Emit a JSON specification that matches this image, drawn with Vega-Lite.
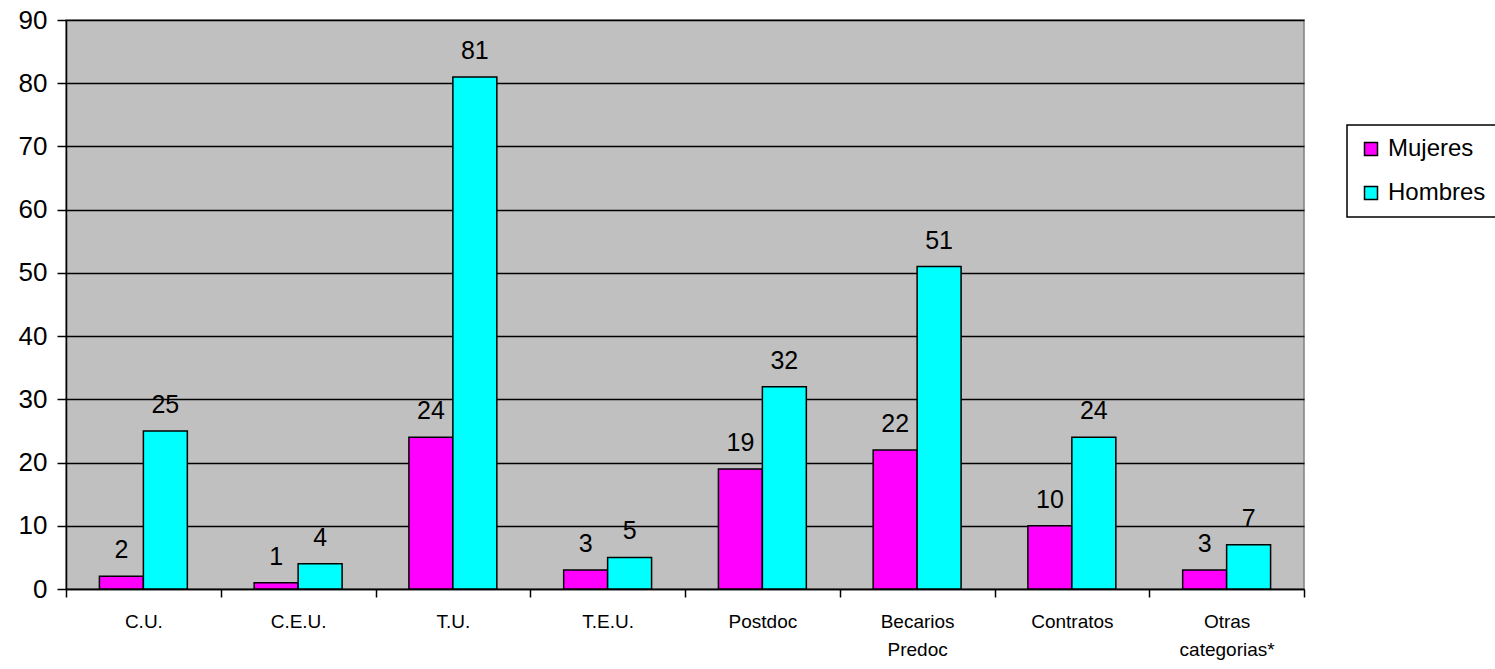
{
  "$schema": "https://vega.github.io/schema/vega-lite/v6.json",
  "autosize": "none",
  "width": 1238,
  "height": 569,
  "padding": {"left": 66, "top": 20, "right": 191, "bottom": 80},
  "background": "white",
  "config": {
    "font": "Liberation Sans",
    "view": {"fill": "#C0C0C0", "stroke": "#808080", "strokeWidth": 1.5},
    "axis": {"labelFont": "Liberation Sans", "labelColor": "black", "domainColor": "black", "tickColor": "black", "domainWidth": 1.5, "tickWidth": 1.5}
  },
  "data": {
    "values": [
      {"cat": "C.U.", "sexo": "Mujeres", "n": 2},
      {"cat": "C.U.", "sexo": "Hombres", "n": 25},
      {"cat": "C.E.U.", "sexo": "Mujeres", "n": 1},
      {"cat": "C.E.U.", "sexo": "Hombres", "n": 4},
      {"cat": "T.U.", "sexo": "Mujeres", "n": 24},
      {"cat": "T.U.", "sexo": "Hombres", "n": 81},
      {"cat": "T.E.U.", "sexo": "Mujeres", "n": 3},
      {"cat": "T.E.U.", "sexo": "Hombres", "n": 5},
      {"cat": "Postdoc", "sexo": "Mujeres", "n": 19},
      {"cat": "Postdoc", "sexo": "Hombres", "n": 32},
      {"cat": "Becarios Predoc", "sexo": "Mujeres", "n": 22},
      {"cat": "Becarios Predoc", "sexo": "Hombres", "n": 51},
      {"cat": "Contratos", "sexo": "Mujeres", "n": 10},
      {"cat": "Contratos", "sexo": "Hombres", "n": 24},
      {"cat": "Otras categorias*", "sexo": "Mujeres", "n": 3},
      {"cat": "Otras categorias*", "sexo": "Hombres", "n": 7}
    ]
  },
  "encoding": {
    "x": {
      "field": "cat", "type": "nominal", "sort": null,
      "scale": {"paddingInner": 0, "paddingOuter": 0},
      "axis": {
        "title": null, "labelAngle": 0, "labelFontSize": 19, "labelPadding": 15,
        "labelExpr": "split(datum.label, ' ')", "labelLineHeight": 28,
        "tickBand": "extent", "tickSize": 8, "grid": false
      }
    },
    "xOffset": {
      "field": "sexo", "type": "nominal", "sort": ["Mujeres", "Hombres"],
      "scale": {"paddingInner": 0, "paddingOuter": 0.76}
    },
    "y": {
      "field": "n", "type": "quantitative",
      "scale": {"domain": [0, 90], "nice": false},
      "axis": {
        "title": null, "values": [0, 10, 20, 30, 40, 50, 60, 70, 80, 90],
        "labelFontSize": 26, "labelPadding": 10, "tickSize": 9,
        "grid": true, "gridColor": "black", "gridWidth": 1.5, "gridOpacity": 1
      }
    }
  },
  "layer": [
    {
      "mark": {"type": "bar", "stroke": "black", "strokeWidth": 1.5, "opacity": 1},
      "encoding": {
        "color": {
          "field": "sexo", "type": "nominal",
          "scale": {"domain": ["Mujeres", "Hombres"], "range": ["#FF00FF", "#00FFFF"]},
          "legend": {
            "title": null, "orient": "none", "legendX": 1281, "legendY": 105,
            "strokeColor": "black", "padding": 12, "fillColor": "white",
            "symbolType": "square", "symbolSize": 169, "symbolStrokeColor": "black",
            "symbolStrokeWidth": 1.5, "symbolOpacity": 1,
            "labelFontSize": 24, "labelFont": "Liberation Sans", "labelColor": "black",
            "labelOffset": 5, "rowPadding": 20,
            "encode": {"legend": {"update": {"strokeWidth": {"value": 1.5}}}}
          }
        }
      }
    },
    {
      "mark": {"type": "text", "baseline": "bottom", "dy": -13, "fontSize": 25, "color": "black", "font": "Liberation Sans"},
      "encoding": {"text": {"field": "n", "type": "quantitative"}}
    }
  ]
}
